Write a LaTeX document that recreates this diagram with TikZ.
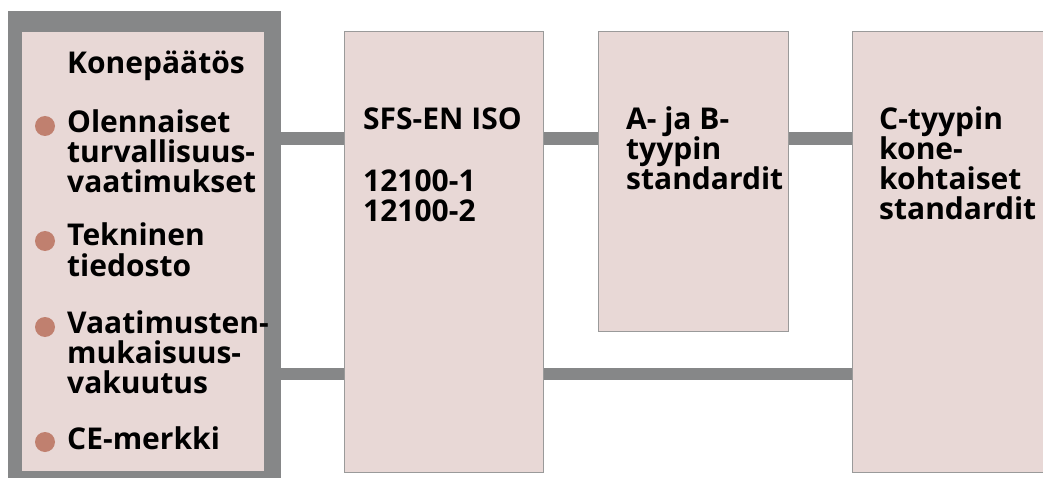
\documentclass[tikz,border=0pt]{standalone}
\usepackage{fontspec}
\setmainfont{Open Sans}
\definecolor{boxfill}{HTML}{E8D8D6}
\definecolor{boxline}{HTML}{9A9A9A}
\definecolor{conngray}{HTML}{868788}
\definecolor{bulletc}{HTML}{C0806F}
\begin{document}
\begin{tikzpicture}[x=1pt,y=-1pt,
  pinkbox/.style={draw=boxline,line width=1pt,fill=boxfill,anchor=north west,inner sep=0pt},
  conn/.style={draw=conngray,line width=12.5pt},
  lbl/.style={anchor=base west,inner sep=0pt,align=left,font=\fontsize{30}{30}\selectfont\bfseries},
  bul/.style={circle,fill=bulletc,minimum size=20pt,inner sep=0pt}]
\useasboundingbox (0,0) rectangle (1043,478);
% left framed box
\node[fill=conngray,anchor=north west,inner sep=0pt,minimum width=273pt,minimum height=467pt] (outer) at (8,11) {};
\node[fill=boxfill,anchor=north west,inner sep=0pt,minimum width=242pt,minimum height=439pt] (inner) at (22,32) {};
% other boxes
\node[pinkbox,minimum width=199pt,minimum height=441pt] (sfs) at (344,31) {};
\node[pinkbox,minimum width=190pt,minimum height=300pt] (ab) at (598,31) {};
\node[pinkbox,minimum width=200pt,minimum height=441pt] (c) at (852,31) {};
% connectors
\draw[conn] (outer.east |- 0,138.5) -- (sfs.west |- 0,138.5);
\draw[conn] (sfs.east |- 0,138.5) -- (ab.west |- 0,138.5);
\draw[conn] (ab.east |- 0,138.5) -- (c.west |- 0,138.5);
\draw[conn] (outer.east |- 0,374) -- (sfs.west |- 0,374);
\draw[conn] (sfs.east |- 0,374) -- (c.west |- 0,374);
% left texts (base anchor = baseline of last line)
\node[lbl] (t0) at (67,74) {Konepäätös};
\node[bul] (b1) at (45,126) {};
\node[lbl] (t1) at (67,193) {Olennaiset\\turvallisuus-\\vaatimukset};
\node[bul] (b2) at (45,241) {};
\node[lbl] (t2) at (67,276) {Tekninen\\tiedosto};
\node[bul] (b3) at (45,327) {};
\node[lbl] (t3) at (67,393) {Vaatimusten-\\mukaisuus-\\vakuutus};
\node[bul] (b4) at (45,442) {};
\node[lbl] (t4) at (67,449) {CE-merkki};
% box texts
\node[lbl] (s1) at (363,130) {SFS-EN ISO};
\node[lbl] (s2) at (363,222) {12100-1\\12100-2};
\node[lbl] (a1) at (626,190) {A- ja B-\\tyypin\\standardit};
\node[lbl] (c1) at (879,220) {C-tyypin\\kone-\\kohtaiset\\standardit};
\end{tikzpicture}
\end{document}
